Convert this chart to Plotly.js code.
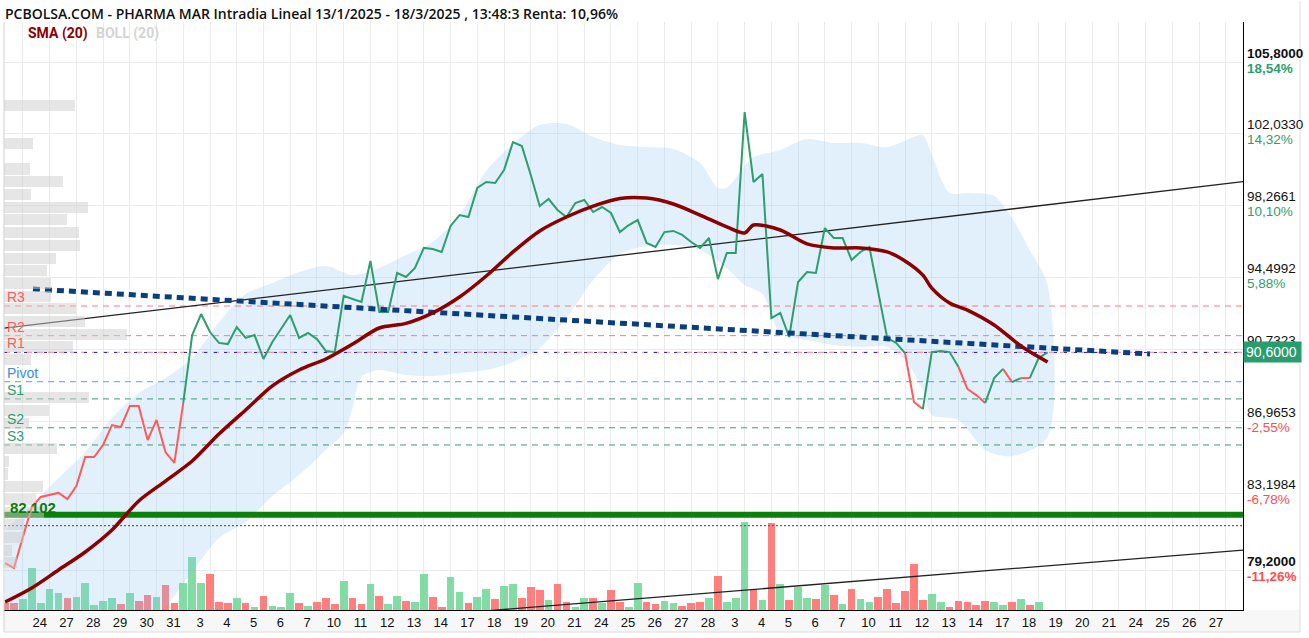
<!DOCTYPE html>
<html><head><meta charset="utf-8">
<script src="https://cdn.plot.ly/plotly-3.0.1.min.js"></script>
<style>html,body{margin:0;padding:0;background:#fff;}#chart{width:1309px;height:638px;}</style>
</head><body><div id="chart"></div>
<script>
// ---- x axis day labels (Jan 24 .. Mar 27), three intraday points per day ----
const dayLabels = ['24','27','28','29','30','31','3','4','5','6','7','10','11','12','13','14','17','18','19','20','21','24','25','26','27','28','3','4','5','6','7','10','11','12','13','14','17','18','19','20','21','24','25','26','27'];

// ---- intraday price (one value per slot) ----
const price = [79.58,79.32,80.94,82.51,83.04,83.14,83.25,82.93,83.61,85.13,
 85.13,85.76,86.80,86.70,87.80,87.80,86.02,87.07,85.39,84.82,
 87.96,91.51,92.61,91.67,91.10,91.04,91.93,91.36,91.51,90.26,
 91.15,91.83,92.56,91.36,91.62,91.30,90.68,90.62,93.56,93.40,
 93.24,95.39,92.72,92.72,94.76,94.55,95.02,96.07,96.01,95.86,
 97.22,97.79,97.69,99.21,99.52,99.47,100.15,101.61,101.40,99.89,
 98.26,98.63,98.06,97.69,98.42,98.58,97.95,98.21,97.90,96.90,
 97.27,97.53,96.33,96.12,96.90,96.96,96.75,96.38,96.07,96.59,
 94.44,95.81,95.81,103.18,99.52,99.94,92.40,92.67,91.41,94.29,
 94.81,94.76,97.11,96.59,96.59,95.44,95.86,96.12,93.71,91.36,
 91.10,90.57,88.01,87.64,90.62,90.68,90.62,89.84,88.69,88.37,
 87.96,89.26,89.74,89.05,89.26,89.26,90.31,90.60];
// colour of the segment arriving at each point (r = red, g = green)
const lineTone = ('rrrrrrrrrr'+'rrrrrrrrrr'+'r'+'gggggggggg'+'gggggggggg'+'gggggggggg'+'gggggggggg'+'gggggggggg'+'gggggggggg'+'gggggggggg'+'gggggggggg'+'g'+'rr'+'gggg'+'rrr'+'gg'+'r'+'g'+'r'+'gg').split('');

// ---- volume per slot ----
const volume = [7,7,11,42,7,21,17,12,13,27, 5,9,12,6,17,9,15,13,25,7,
 27,53,27,36,8,7,12,7,3,14, 4,3,17,7,4,8,12,6,29,12,
 6,26,14,6,14,9,8,36,13,3, 33,18,7,13,21,11,24,26,12,23,
 20,10,26,8,3,12,12,7,20,8, 3,27,8,6,9,7,4,7,8,12,
 34,8,12,88,21,10,87,26,10,23, 12,11,25,15,6,21,11,8,13,21,
 7,19,46,10,16,8,3,9,8,5, 9,8,5,8,11,5,8,0];
const volTone = ('rrgggggrgg'+'gggrgrrgrr'+'gggrrrgrgr'+'gggrgrrrgr'+'rgrggrggrr'+'ggrggrggrr'+'rgrrggrgrr'+'ggrrggrrrg'+'rgggrgrgrg'+'grgrgrggrr'+'rrrrggrrrr'+'rggrgrgg').split('');

// ---- SMA(20) ----
const smaK = [0,3,6,9,12,15,18,21,24,27,30,33,36,39,42,45,48,51,54,57,60,63,66,69,72,75,78,81,83,84,87,90,93,96,99,101,103,104,106,108,111,114,117];
const smaV = [77.54,78.28,79.22,80.16,81.31,82.83,83.87,84.92,86.33,87.59,88.85,89.68,90.26,91.04,91.88,92.12,92.67,93.50,94.60,95.86,96.96,97.69,98.26,98.66,98.68,98.37,97.79,97.17,96.85,97.27,97.01,96.28,96.07,96.07,95.86,95.39,94.65,93.97,93.19,92.82,92.04,90.94,90.10];

// ---- Bollinger (20) band ----
const upK = [0,3,6,9,12,15,18,21,24,27,30,33,36,39,42,45,48,51,54,57,60,63,66,69,72,75,78,80,81,83,84,87,90,93,96,99,102,103,104,106,108,111,113,115,117];
const upV = [81.31,82.62,84.03,85.39,87.17,88.48,89.26,90.31,92.19,93.66,94.24,94.81,95.13,94.65,95.02,95.70,96.38,97.79,100.10,101.51,102.50,102.56,101.88,101.46,101.35,101.25,100.51,99.21,99.21,100.36,100.83,101.20,101.77,101.56,101.56,101.35,101.88,101.98,100.93,98.94,98.94,98.79,97.64,95.96,94.13];
const lowK = [0,3,6,9,12,15,18,21,24,27,30,33,36,38,39,40,42,45,48,51,54,57,60,63,66,69,72,75,78,81,83,85,87,90,93,96,99,101,103,104,107,110,113,117];
const lowV = [72.0,72.8,73.6,74.4,75.2,76.2,77.3,79.11,80.89,81.73,83.09,84.19,85.50,86.39,87.70,89.32,89.68,89.42,89.37,89.53,89.68,90.10,90.83,92.40,94.39,95.75,96.17,96.22,95.96,95.02,94.13,93.66,91.62,91.25,90.99,90.89,90.89,90.21,88.64,87.33,87.07,85.50,85.18,86.18];

// ---- volume profile (price bins, relative volume) ----
const profilePrice = [103.52,102.86,102.19,101.53,100.86,100.20,99.53,98.87,98.20,97.54,96.87,96.21,95.54,94.88,94.22,93.55,92.89,92.22,91.56,90.89,90.23,89.56,88.90,88.23,87.57,86.90,86.24,85.57,84.91,84.24,83.58,82.92,82.25,81.59,80.92,80.26,79.59,78.93,78.26,77.60];
const profileVol = [71,0,0,29,0,26,59,27,84,63,75,76,52,43,47,47,72,81,123,69,27,0,0,85,45,25,0,53,5,4,39,32,40,20,20,8,13,0,0,0];

// ---- pivot levels ----
const levelNames = ['R3','R2','R1','Pivot','S1','S2','S3'];
const levelValues = [93.03,91.48,90.61,89.07,88.17,86.66,85.76];
const supportLine = 82.102;
const dottedLevel = 81.54;
const lastPrice = 90.60;

// ---- trend lines (slot, price) ----
const trendUpperK = [-0.12,138.93], trendUpperV = [91.87,99.54];
const trendLowerK = [53.3,138.93], trendLowerV = [77.05,80.26];
const trendBlueK = [3.13,128.5], trendBlueV = [93.92,90.52];

// ---- price axis ticks ----
const tickVals = [105.8,102.033,98.2661,94.4992,90.7323,86.9653,83.1984,79.2];
const tickLabels = ['105,8000','102,0330','98,2661','94,4992','90,7323','86,9653','83,1984','79,2000'];
const tickPct = ['18,54%','14,32%','10,10%','5,88%','','-2,55%','-6,78%','-11,26%'];

const xRange = [-0.12, 138.93];
const yRange = [77.124, 107.893];
const GREEN = '#2e9e6e', RED = '#ff5a5a';
const FONT = 'Liberation Sans, Arial, sans-serif';

const idx = price.map((_, i) => i);
const traces = [];

// volume (main subplot, drawn underneath)
traces.push({type:'bar', x: idx, y: volume, width: 0.86, xaxis:'x', yaxis:'y',
  marker:{color: volTone.map(t => t === 'g' ? 'rgba(108,214,148,0.85)' : 'rgba(255,104,104,0.85)'), line:{width:0}},
  hoverinfo:'skip', showlegend:false});

// volume profile
traces.push({type:'bar', orientation:'h', x: profileVol, y: profilePrice, width: 0.58, xaxis:'x2', yaxis:'y2',
  marker:{color:'rgba(205,205,205,0.5)', line:{width:0}}, hoverinfo:'skip', showlegend:false});

// bollinger band
traces.push({type:'scatter', mode:'lines', xaxis:'x', yaxis:'y2',
  x: upK.concat(lowK.slice().reverse()), y: upV.concat(lowV.slice().reverse()),
  fill:'toself', fillcolor:'rgba(135,195,240,0.25)', line:{width:0, shape:'spline', smoothing:0.8},
  hoverinfo:'skip', showlegend:false});

// horizontal levels
function hline(v, color, width, dash) {
  traces.push({type:'scatter', mode:'lines', xaxis:'x', yaxis:'y2', x: xRange, y:[v, v],
    line:{color, width, dash}, hoverinfo:'skip', showlegend:false});
}
levelNames.forEach((n, i) => {
  const c = n[0] === 'R' ? 'rgba(255,110,110,0.9)' : (n === 'Pivot' ? '#5b9ff0' : '#3a9d72');
  hline(levelValues[i], c, 1, '6px,5px');
});
hline(lastPrice, '#2323d8', 1, '3px,7px');
hline(supportLine, '#0b800b', 6, 'solid');
hline(dottedLevel, '#666666', 1.3, '2px,2px');

// trend lines
traces.push({type:'scatter', mode:'lines', xaxis:'x', yaxis:'y2', x: trendUpperK, y: trendUpperV,
  line:{color:'#222', width:1.3}, hoverinfo:'skip', showlegend:false});
traces.push({type:'scatter', mode:'lines', xaxis:'x', yaxis:'y2', x: trendLowerK, y: trendLowerV,
  line:{color:'#222', width:1.3}, hoverinfo:'skip', showlegend:false});

// price line split into coloured runs
let s = 0, tone = lineTone[1];
for (let i = 2; i <= price.length; i++) {
  if (i === price.length || lineTone[i] !== tone) {
    traces.push({type:'scatter', mode:'lines', xaxis:'x', yaxis:'y2',
      x: idx.slice(s, i), y: price.slice(s, i),
      line:{color: tone === 'g' ? GREEN : RED, width:2}, hoverinfo:'skip', showlegend:false});
    s = i - 1; tone = lineTone[i];
  }
}

// blue dotted trend
traces.push({type:'scatter', mode:'lines', xaxis:'x', yaxis:'y2', x: trendBlueK, y: trendBlueV,
  line:{color:'#0a3f7f', width:5, dash:'7px,5px'}, hoverinfo:'skip', showlegend:false});

// SMA
traces.push({type:'scatter', mode:'lines', xaxis:'x', yaxis:'y2', x: smaK, y: smaV,
  line:{color:'#8b0000', width:3.5, shape:'spline', smoothing:0.8}, hoverinfo:'skip', showlegend:false});

const annotations = [];
// price axis labels: value above the grid line, percentage below
tickVals.forEach((v, i) => {
  const bold = (i === 0 || i === tickVals.length - 1);
  annotations.push({xref:'paper', yref:'y2', x:1, xshift:2, y:v, yshift:9, text: bold ? '<b>'+tickLabels[i]+'</b>' : tickLabels[i],
    showarrow:false, xanchor:'left', yanchor:'middle', font:{family:FONT, size:13.5, color:'#111'}});
  if (tickPct[i]) {
    const col = tickPct[i][0] === '-' ? '#ff4d4d' : '#2e9e6e';
    annotations.push({xref:'paper', yref:'y2', x:1, xshift:2, y:v, yshift:-6, text: bold ? '<b>'+tickPct[i]+'</b>' : tickPct[i],
      showarrow:false, xanchor:'left', yanchor:'middle', font:{family:FONT, size:13.5, color:col}});
  }
});
levelNames.forEach((n, i) => {
  const c = n[0] === 'R' ? '#ff5c5c' : (n === 'Pivot' ? '#3a8ee6' : '#2e9e6e');
  annotations.push({xref:'paper', yref:'y2', x: 0.0008, y: levelValues[i], yshift:-1, text: n, showarrow:false,
    xanchor:'left', yanchor:'bottom', font:{family:FONT, size:14, color:c}});
});
annotations.push({xref:'paper', yref:'y2', x: 0.003, y: supportLine, yshift:-3, text:'82.102', showarrow:false,
  xanchor:'left', yanchor:'bottom', font:{family:FONT, size:15, color:'#0b7a0b', weight:700}});
annotations.push({xref:'paper', yref:'paper', x: 0.0178, y: 0.981, text:'SMA (20)', showarrow:false,
  xanchor:'left', yanchor:'middle', font:{family:'Liberation Sans Narrow, Roboto, sans-serif', size:14, color:'#8b0000', weight:700}});
annotations.push({xref:'paper', yref:'paper', x: 0.0726, y: 0.981, text:'BOLL (20)', showarrow:false,
  xanchor:'left', yanchor:'middle', font:{family:'Liberation Sans Narrow, Roboto, sans-serif', size:14, color:'#d4d4d4', weight:700}});
annotations.push({xref:'paper', yref:'y2', x: 1.0, y: lastPrice, text:'90,6000', showarrow:false,
  xanchor:'left', yanchor:'middle', align:'left', bgcolor:'#2a9d6f', borderpad:2, width:53,
  font:{family:FONT, size:14, color:'#ffffff'}});

const layout = {
  width:1309, height:638,
  margin:{l:4, r:66, t:22, b:28, pad:0},
  paper_bgcolor:'#ffffff', plot_bgcolor:'rgba(0,0,0,0)',
  showlegend:false, bargap:0,
  title:{text:'PCBOLSA.COM - PHARMA MAR Intradia Lineal 13/1/2025 - 18/3/2025 , 13:48:3 Renta: 10,96%',
    xref:'container', yref:'container', x: 5/1309, y: 1 - 14/638, xanchor:'left', yanchor:'middle',
    font:{family:'Open Sans, sans-serif', size:14, color:'#111', weight:600}},
  xaxis:{range:xRange, tickmode:'array', tickvals: dayLabels.map((_, j) => 3.9 + 3 * j), ticktext: dayLabels,
    showgrid:false, zeroline:false, showline:true, linecolor:'#000', linewidth:1, ticks:'',
    tickfont:{family:FONT, size:13, color:'#111'},
    minor:{tick0:5, dtick:3, showgrid:true, gridcolor:'#ececec', gridwidth:1, ticks:''}},
  xaxis2:{range:[0, 1239], overlaying:'x', visible:false},
  yaxis:{range:[0, 588], visible:false, fixedrange:true},
  yaxis2:{range:yRange, overlaying:'y', side:'right', tickmode:'array', tickvals:tickVals, showticklabels:false,
    showgrid:true, gridcolor:'#ebebeb', gridwidth:1, zeroline:false, showline:true, linecolor:'#000', linewidth:1,
    ticks:''},
  shapes:[
    {type:'rect', xref:'paper', yref:'paper', x0:0, x1:(1300-4)/1239, y0:-22/588, y1:0, fillcolor:'#f7f7f7', line:{width:0}, layer:'below'},
    {type:'line', xref:'paper', yref:'paper', x0:0, x1:0, y0:-22/588, y1:1, line:{color:'#d0d0d0', width:1}},
    {type:'line', xref:'paper', yref:'paper', x0:(1300-4)/1239, x1:(1300-4)/1239, y0:-22/588, y1:609/588, line:{color:'#dddddd', width:1}},
    {type:'line', xref:'paper', yref:'paper', x0:0, x1:(1300-4)/1239, y0:-22/588, y1:-22/588, line:{color:'#dddddd', width:1}}
  ],
  annotations
};

Plotly.newPlot('chart', traces, layout, {displayModeBar:false, staticPlot:true});
</script></body></html>
